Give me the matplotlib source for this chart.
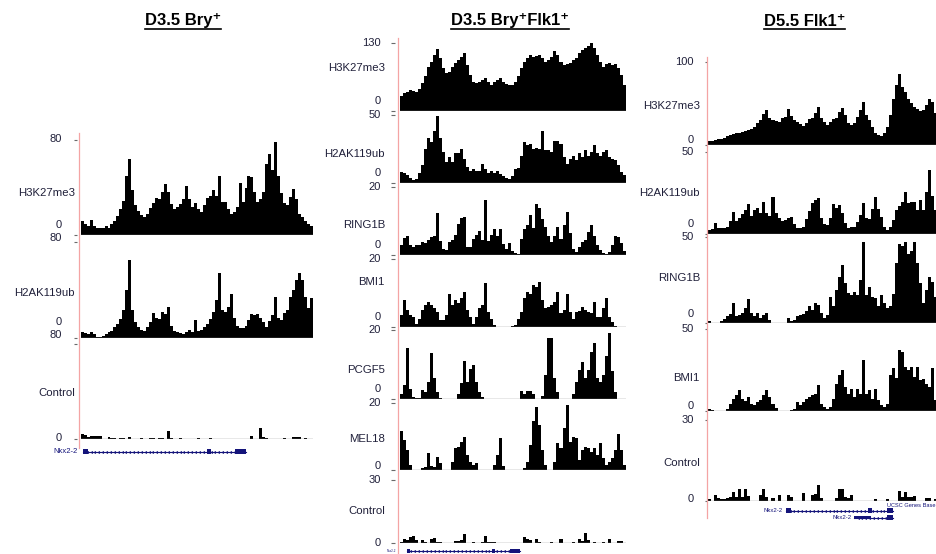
import numpy as np
import matplotlib
matplotlib.use("Agg")
import matplotlib.pyplot as plt
from matplotlib.lines import Line2D

plt.rcParams['font.family'] = ['Liberation Sans', 'DejaVu Sans']

W, H = 937, 554

# ---------------- binned ChIP-seq coverage around the Nkx2-2 locus ----------------
# D3.5 Bry+
bry_h3k27me3 = [12, 9, 8, 13, 8, 6, 6, 6, 8, 6,
                9, 12, 16, 22, 29, 50, 64, 38, 25, 20,
                17, 15, 18, 23, 27, 31, 30, 36, 43, 36,
                26, 22, 24, 26, 30, 41, 30, 24, 27, 22,
                19, 25, 31, 33, 38, 33, 50, 28, 28, 22,
                18, 19, 24, 44, 28, 40, 50, 49, 36, 28,
                30, 36, 60, 68, 55, 78, 50, 35, 27, 25,
                32, 39, 30, 18, 15, 12, 9, 8]
bry_h2ak119ub = [5, 4, 3, 5, 3, 1, 1, 2, 3, 5,
                 6, 9, 12, 16, 23, 40, 65, 23, 13, 9,
                 7, 6, 9, 13, 21, 17, 16, 22, 20, 26,
                 10, 6, 5, 4, 3, 5, 7, 5, 15, 6,
                 7, 9, 12, 16, 22, 32, 54, 23, 22, 26,
                 37, 17, 10, 8, 8, 10, 15, 20, 19, 20,
                 17, 13, 9, 14, 19, 34, 17, 15, 21, 23,
                 34, 40, 48, 54, 48, 34, 25, 33]
bry_control = [4.5, 3, 2, 2.8, 2.5, 2.5, 2.5, 0, 0, 1.5,
               0.8, 0.8, 0, 0.8, 0.8, 0, 1.5, 0, 0, 0,
               1, 0, 0, 1, 1, 0, 1, 1, 0, 6.5,
               1, 0, 0, 1, 0, 0, 0, 0, 0, 1,
               0, 0, 0, 1, 0, 0, 0, 0, 0, 0,
               0, 0, 0, 0, 0, 0, 0, 2.5, 0, 0,
               9, 2, 1, 0, 0, 0, 0, 0, 1, 0,
               0, 1.7, 1.7, 1.7, 0, 1, 0, 0]

# D3.5 Bry+Flk1+
bf_h3k27me3 = [29, 34, 36, 40, 38, 37, 43, 53, 66, 85,
               94, 107, 118, 101, 82, 72, 75, 85, 91, 97,
               104, 110, 88, 69, 56, 53, 56, 59, 64, 56,
               50, 56, 59, 64, 56, 51, 50, 50, 56, 66,
               82, 94, 101, 108, 104, 106, 108, 101, 94, 97,
               104, 115, 107, 94, 88, 89, 91, 97, 102, 110,
               117, 121, 125, 130, 120, 108, 94, 85, 89, 91,
               87, 89, 82, 69, 50]
bf_h2ak119ub = [8, 7, 6, 4, 2.5, 3, 7, 13, 25, 33,
                30, 38, 49, 33, 23, 15.5, 19, 15.5, 22, 22,
                25, 18, 12, 9, 10, 9, 8.6, 14, 10, 7,
                8.6, 7.6, 9, 6.4, 5.4, 3.7, 2.7, 5.4, 10, 11,
                20, 30, 28, 29, 25, 26, 25, 38, 24, 24,
                23, 31, 31, 29, 19, 14, 18, 20, 17, 22,
                19, 24, 20, 23, 28, 22, 20, 23, 24, 19,
                18, 17, 13, 8, 6]
bf_ring1b = [2.8, 5, 5.7, 3, 2.5, 3, 2.8, 3.8, 3.5, 4.5,
             5.2, 5.7, 12.4, 4, 1.8, 1.5, 3.8, 4.5, 6, 9,
             11, 11.2, 2.5, 2.5, 4.8, 6, 7.2, 4.5, 16.3, 4,
             6, 7.7, 5.5, 7.7, 3.3, 1.8, 3.5, 1.3, 0.5, 0.3,
             4.8, 7.7, 8.7, 11.7, 8, 15.1, 13.7, 10.7, 8.2, 5.7,
             3.8, 5.5, 8.2, 4.8, 8.7, 12.7, 6.5, 1.8, 0.8, 2.5,
             3.8, 4.5, 6.7, 8.7, 5.5, 3, 1.5, 0.5, 0.2, 0.8,
             2.8, 5.7, 5.2, 3.5, 1.2]
bf_bmi1 = [3.4, 7.9, 5, 3.4, 3, 1, 2.5, 5, 6.5, 7.5,
           6.5, 5.5, 4.5, 2, 2, 3.5, 9.6, 6.5, 8, 7,
           8.5, 10.3, 5, 3, 1, 3, 5.5, 6.5, 12.8, 4.5,
           2.5, 0.5, 0, 0, 0, 0, 0, 0.3, 0.5, 2.5,
           4.4, 8.4, 10.3, 9.8, 12.3, 11.8, 13.3, 8, 5.5, 6,
           6.5, 7.5, 10.3, 4, 5, 9.6, 4.5, 2.5, 4.4, 4.8,
           5.9, 5, 4.4, 4, 7.4, 3, 3, 5.5, 8.6, 3,
           1.5, 0.3, 0, 0, 0]
bf_pcgf5 = [1.5, 4, 14.7, 3, 0.5, 0.3, 0.3, 2.5, 2, 5,
            13.2, 6, 2, 0.3, 0, 0, 0, 0, 0, 1.5,
            4.5, 11, 5, 8.8, 9.8, 5, 2, 0.5, 0, 0,
            0, 0, 0, 0, 0, 0, 0, 0, 0, 0,
            2.2, 1.5, 2.2, 2.2, 1.5, 0, 0, 1, 6.9, 17.6,
            17.6, 6, 2, 0, 0, 0, 0, 1.5, 5, 8.3,
            10.6, 6, 8.3, 13.7, 16.2, 6, 5, 7, 12.5, 19,
            8, 2, 0, 0, 0]
bf_mel18 = [11.5, 9, 6, 1.5, 0, 0, 0, 0.5, 1, 5,
            1.2, 0.8, 4, 2, 0, 0, 0, 2.5, 6.5, 7,
            8.5, 10, 4.5, 2.5, 1.5, 2, 0, 0, 0, 0,
            0, 1.5, 4.5, 9.7, 1.2, 0, 0, 0, 0, 0,
            0, 0.5, 2.5, 7.5, 14.5, 18.9, 13.5, 6, 1.5, 0,
            0, 2.5, 8, 6.5, 12.5, 19.4, 8.5, 10, 9.5, 3,
            6, 7, 6.5, 5.5, 6.5, 4.5, 8, 3.5, 1.6, 2.5,
            3.5, 6, 10.7, 6, 1.5]
bf_control = [0.6, 2, 1.6, 2.7, 3.5, 1.6, 0, 1.6, 0.6, 0,
              2, 2.2, 0.6, 0.3, 0, 0, 0, 0, 1.1, 1.1,
              1.5, 4.3, 0, 0, 0.6, 0, 0, 0.5, 3.5, 0.6,
              0.6, 0.6, 0, 0, 0, 0, 0, 0, 0, 0,
              0, 2.7, 2, 1.6, 0, 2, 0.6, 0, 0, 0,
              0.6, 0, 0, 2, 0, 0, 0, 0.6, 0, 2,
              1, 4.7, 1.6, 0, 0.6, 0, 0, 0.6, 0, 2,
              0, 0, 1, 1, 0]

# D5.5 Flk1+
flk_h3k27me3 = [5, 5, 6, 7, 7, 8, 11, 12, 13, 14,
                15, 16, 17, 18, 19, 22, 26, 30, 37, 42,
                33, 30, 29, 28, 32, 34, 43, 35, 30, 28,
                25, 23, 27, 31, 33, 38, 46, 32, 28, 24,
                28, 31, 33, 40, 44, 36, 26, 24, 27, 34,
                42, 52, 36, 30, 22, 15, 12, 11, 15, 22,
                36, 56, 72, 86, 70, 64, 56, 51, 46, 43,
                41, 42, 48, 56, 52, 38]
flk_h2ak119ub = [2.4, 2.8, 6.5, 3.5, 3.5, 3.5, 4, 8, 13.6, 8,
                 10, 12, 14.6, 18.3, 11, 14.6, 15.6, 13, 19.7, 13,
                 11, 22.8, 12.6, 10, 8, 8.5, 9.5, 10.6, 6, 3.5,
                 3.5, 4.5, 9, 14, 18.7, 20.7, 21.7, 10, 6, 5.5,
                 9.5, 18.3, 15.6, 17.7, 12.6, 6.5, 3.5, 4, 4.5, 7.5,
                 11.5, 18.7, 10, 9, 15, 22.8, 15, 10.5, 4.5, 2.4,
                 4.5, 8.5, 14.6, 17, 19.7, 25.8, 18.7, 19.7, 19.7, 14.6,
                 20.7, 14.6, 25.8, 39, 23, 14.6]
flk_ring1b = [1, 0, 0, 0, 1, 2.3, 3.9, 5, 11.6, 4,
              4.8, 5.8, 8.7, 13.9, 5.8, 3.9, 5.8, 3, 4.8, 5.8,
              2, 0, 0, 0, 0, 0, 2.9, 1, 2, 3.9,
              4.8, 5, 6.8, 9.7, 7.8, 11.6, 10.6, 5.8, 2.9, 4.8,
              15.4, 9.7, 19.3, 27, 33.8, 23, 17.4, 16.4, 18.3, 16.4,
              25, 47, 16.4, 21, 15.4, 14.5, 9.7, 16.4, 11.6, 8.7,
              9.7, 17, 34.7, 46, 45, 47, 40, 42, 47, 34.7,
              23, 11.6, 19.3, 27, 24, 15.4]
flk_bmi1 = [1.4, 0.5, 0, 0, 0, 0, 1, 4.5, 7.5, 9.6,
            13, 7.5, 6, 8.6, 4.5, 3.5, 5.5, 6.5, 9.6, 13,
            8.6, 4.5, 2, 0, 0, 0, 0, 0.5, 1.4, 5.5,
            3.5, 5.5, 7.5, 8.6, 9.6, 10.5, 16, 4.5, 2.5, 1.4,
            2.5, 7.5, 16.7, 21.8, 24.9, 14.7, 10.6, 13.7, 8.6, 13.7,
            10.6, 31, 10.6, 12.7, 7.5, 13.7, 6.5, 3.5, 2.5, 4.5,
            22, 26, 20, 37, 36, 27, 24.9, 26.9, 20.8, 26.9,
            18.8, 19.8, 16.7, 14.7, 26, 6.5]
flk_control = [0.9, 0, 2.1, 1.2, 0.9, 0.9, 1.2, 1.5, 3.3, 1.6,
               4.3, 1.6, 4.5, 2, 0, 0, 0, 2.1, 4.3, 1.6,
               0, 1.2, 0, 2.1, 0, 0, 2.1, 1.6, 0, 0,
               0, 3, 0, 0, 2.1, 2.5, 5.8, 1.2, 0, 0,
               0, 0, 1.2, 4.3, 4.5, 1.6, 1.2, 2.1, 0, 0,
               0, 0, 0, 0, 0, 0.9, 0, 0, 0, 0.9,
               0, 0, 0, 3.7, 1.6, 3.3, 1.6, 1.6, 2, 0,
               0, 0, 1.2, 1.2, 0, 0.9]

# gene models (in bin units): start, end, thick blocks
bry_gene = dict(start=0.8, end=55.5, blocks=[(0.8, 2.4), (42.4, 43.8), (51.8, 55.5)])
bf_gene = dict(start=2.2, end=39.9, blocks=[(2.2, 3.3), (30.6, 31.6), (36.6, 39.9)])
flk_gene1 = dict(start=25.8, end=61.4, blocks=[(25.8, 27.5), (53.0, 54.4), (59.4, 61.4)])
flk_gene2 = dict(start=48.4, end=61.4, blocks=[(48.4, 54.0), (59.4, 61.4)])
gene_name = "Nkx2-2"

LABEL_COLOR = "#20203a"
GENE_COLOR = "#14147a"
RED = "#f4a4a4"

fig = plt.figure(figsize=(W / 100, H / 100), dpi=100)


def fx(px):
    return px / W


def fy(py):
    return 1 - py / H


def track(x0, x1, top, base, vals, ymax, outward, ticklen):
    ax = fig.add_axes([fx(x0), fy(base), (x1 - x0) / W, (base - top) / H])
    ax.stairs(vals, np.arange(len(vals) + 1), fill=True, color="black",
              baseline=0, linewidth=0)
    ax.set_xlim(0, len(vals))
    ax.set_ylim(0, ymax)
    ax.axhline(0, color="#8c8c8c", lw=1.0, zorder=3)
    for s in ("top", "right", "bottom"):
        ax.spines[s].set_visible(False)
    ax.spines["left"].set_visible(False)
    ax.spines["left"].set_position(("outward", outward))
    ax.set_xticks([])
    ax.set_yticks([0, ymax])
    ax.tick_params(axis="y", length=ticklen, width=0.8, color="#6a6a6a",
                   labelleft=False)
    ax.patch.set_alpha(0)
    return ax


panels = [
    dict(title="D3.5 Bry\u207a", tx=183, x0=80.7, x1=313, red=(79.5, 133, 448),
         vright=62, nright=75, outward=2.6, ticklen=2.5,
         tracks=[("H3K27me3", bry_h3k27me3, 80, 140, 235, 139, 225, 193),
                 ("H2AK119ub", bry_h2ak119ub, 80, 242, 338, 238, 322, 293),
                 ("Control", bry_control, 80, 344, 439, 335, 438, 393)]),
    dict(title="D3.5 Bry\u207aFlk1\u207a", tx=510.5, x0=400, x1=625.7, red=(398, 38, 554),
         vright=381, nright=385, outward=3.6, ticklen=3,
         tracks=[("H3K27me3", bf_h3k27me3, 130, 43, 111, 43, 101, 68),
                 ("H2AK119ub", bf_h2ak119ub, 50, 115, 183, 115, 173, 154),
                 ("RING1B", bf_ring1b, 20, 187, 255, 187, 245, 225),
                 ("BMI1", bf_bmi1, 20, 259, 327, 259, 317, 282),
                 ("PCGF5", bf_pcgf5, 20, 330, 399, 330, 389, 370),
                 ("MEL18", bf_mel18, 20, 403, 470, 403, 466, 439),
                 ("Control", bf_control, 30, 480, 543, 480, 543, 511)]),
    dict(title="D5.5 Flk1\u207a", tx=804.5, x0=708.3, x1=937, red=(707.5, 57, 518),
         vright=694, nright=700, outward=1.2, ticklen=1.8,
         tracks=[("H3K27me3", flk_h3k27me3, 100, 62, 145, 62, 140, 106),
                 ("H2AK119ub", flk_h2ak119ub, 50, 152, 234, 152, 224, 193),
                 ("RING1B", flk_ring1b, 50, 237, 323, 237, 314, 278),
                 ("BMI1", flk_bmi1, 50, 329, 411, 329, 406, 378),
                 ("Control", flk_control, 30, 420, 501, 420, 499, 463)]),
]

titles = []
for p in panels:
    x0, x1 = p["x0"], p["x1"]
    for name, vals, ymax, top, base, ylab_top, ylab_zero, yname in p["tracks"]:
        track(x0, x1, top, base, vals, ymax, p["outward"], p["ticklen"])
        fig.text(fx(p["vright"]), fy(ylab_top), str(ymax), ha="right", va="center",
                 fontsize=8, color=LABEL_COLOR)
        fig.text(fx(p["vright"]), fy(ylab_zero), "0", ha="right", va="center",
                 fontsize=8, color=LABEL_COLOR)
        fig.text(fx(p["nright"]), fy(yname), name, ha="right", va="center",
                 fontsize=8.2, color=LABEL_COLOR)
    rx, ry0, ry1 = p["red"]
    fig.add_artist(Line2D([fx(rx), fx(rx)], [fy(ry0), fy(ry1)], color=RED, lw=0.9))
    t = fig.text(fx(p["tx"]), fy(25.5), p["title"], ha="center", va="baseline",
                 fontsize=12, fontweight="bold", color="black")
    titles.append(t)


def gene_axes(x0, x1, top, base, nbins):
    ax = fig.add_axes([fx(x0), fy(base), (x1 - x0) / W, (base - top) / H])
    ax.set_xlim(0, nbins)
    ax.set_ylim(base, top)
    ax.axis("off")
    ax.patch.set_alpha(0)
    return ax


def draw_gene(ax, g, y, block_h=5.0, first_h=None):
    ax.plot([g["start"], g["end"]], [y, y], color=GENE_COLOR, lw=0.8)
    marks = np.arange(g["start"] + 1.2, g["end"] - 0.5, 1.3)
    ax.plot(marks, np.full_like(marks, y), ls="none", marker="<", ms=2.2,
            mew=0, color=GENE_COLOR)
    for i, (s, e) in enumerate(g["blocks"]):
        h = first_h if (first_h is not None and i == 0) else block_h
        ax.broken_barh([(s, e - s)], (y - h / 2, h), color=GENE_COLOR, lw=0)


# gene tracks
gax1 = gene_axes(80.7, 313, 443, 460, len(bry_control))
draw_gene(gax1, bry_gene, 451.5)
fig.text(fx(78), fy(451.5), gene_name, ha="right", va="center", fontsize=5.5,
         color=GENE_COLOR)

gax2 = gene_axes(400, 625.7, 545, 554, len(bf_control))
draw_gene(gax2, bf_gene, 550.5, block_h=4)
fig.text(fx(396), fy(550.5), gene_name, ha="right", va="center", fontsize=2.2,
         color=GENE_COLOR)

gax3 = gene_axes(708.3, 937, 502, 522, len(flk_control))
draw_gene(gax3, flk_gene1, 510.5, block_h=4.5)
draw_gene(gax3, flk_gene2, 517.5, block_h=4.5, first_h=3)
fig.text(fx(783), fy(510.5), gene_name, ha="right", va="center", fontsize=4.3,
         color=GENE_COLOR)
fig.text(fx(852), fy(517.5), gene_name, ha="right", va="center", fontsize=4.3,
         color=GENE_COLOR)
fig.text(fx(935.5), fy(505.5), "UCSC Genes Base", ha="right", va="center",
         fontsize=4.1, color=GENE_COLOR)

# underline the panel titles
fig.canvas.draw()
renderer = fig.canvas.get_renderer()
for t in titles:
    bb = t.get_window_extent(renderer)
    fig.add_artist(Line2D([bb.x0 / W, bb.x1 / W], [fy(28.6), fy(28.6)],
                          color="black", lw=1.2))

fig.savefig("out.png", dpi=100)
